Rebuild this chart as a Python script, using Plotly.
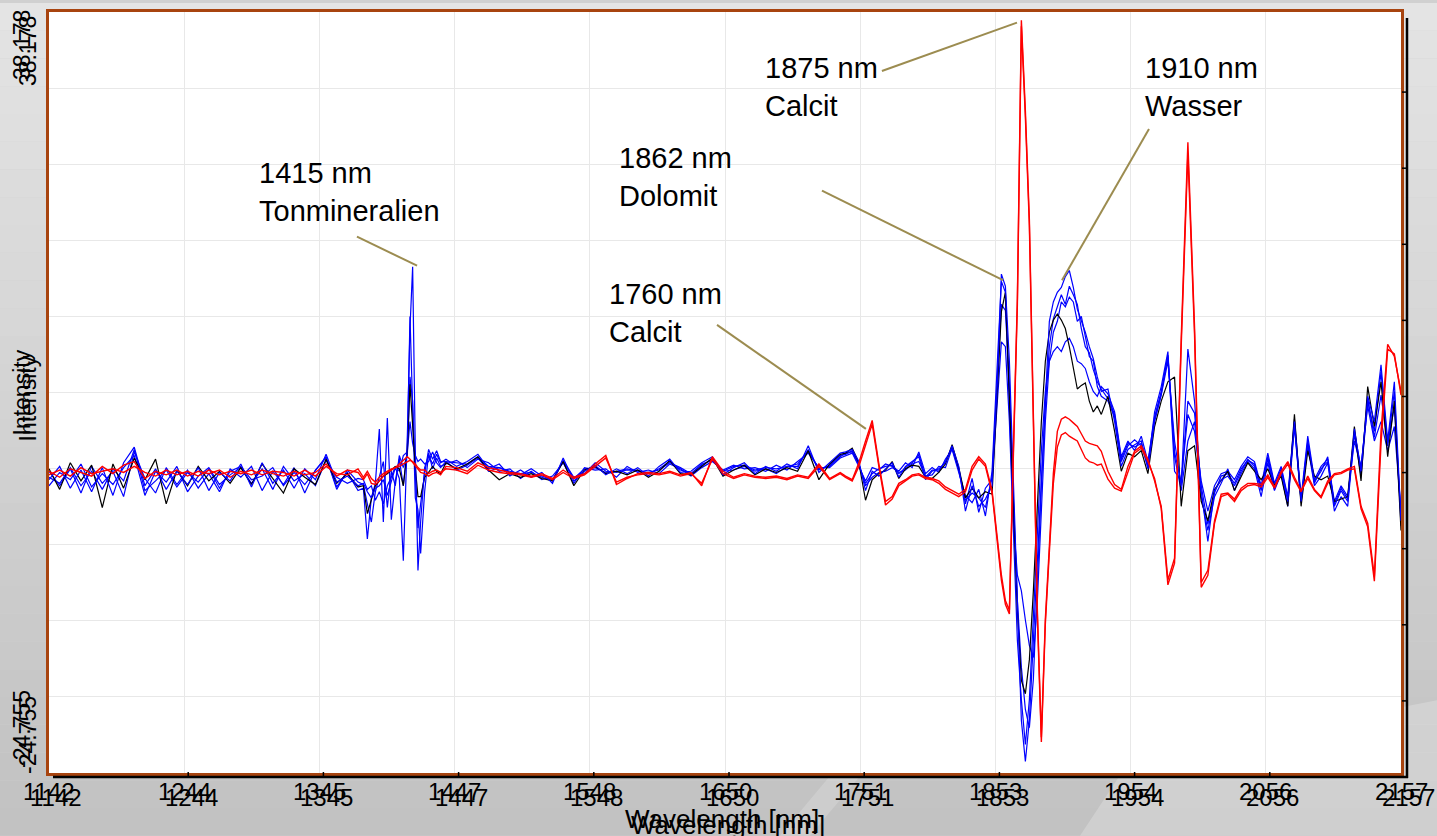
import plotly.graph_objects as go

# ---------------- data ----------------
wavelength = (list(range(1142, 1375, 8))
              + [1378, 1381, 1384, 1387, 1390, 1393, 1396, 1399, 1402, 1405, 1408,
                 1411, 1413, 1415, 1417, 1419, 1421, 1424, 1427, 1430, 1433, 1436]
              + list(range(1440, 1737, 8))
              + list(range(1740, 1851, 5))
              + list(range(1854, 1930, 3))
              + list(range(1932, 2153, 5)) + [2157])

blue_1 = ([-0.5, 0.6, -1.2, 0.3, -1.5, 0.5, -1.8, 0.9, 2.2, -1.0, 0.4, -1.3, 0.2, -0.9, 0.5,
           -1.4, 0.1, -0.6, 0.8, -1.1, 0.9, -0.8, 0.3, -1.2, 0.4, -0.5, 1.6, -0.7, -0.2, -1.0]
          + [-0.8, -1.5, -2.0, -1.2, -1.0, -0.5, -1.8, -0.6, 0.5, -0.4, -7.2, 3.0, 12.0, 17.1,
             2.0, -8.0, -4.0, 0.5, 1.5, 0.8, 1.6, 0.9]
          + [1.2, 0.6, 1.0, 1.6, 0.4, 0.8, -0.2, 0.3, -0.3, 0.1, -0.8, 1.3, -0.6, 0.2, 0.7, -0.1,
             0.4, 0.0, 0.5, -0.2, 0.6, 1.2, 0.1, 0.2, 0.9, 1.4, -0.1, 0.5, 0.9, 0.0, 0.6, 0.2,
             0.8, 0.4, 2.3, 0.1, 0.9, 1.7]
          + [1.8, 2.0, 1.0, -1.4, 0.2, -0.2, 0.4, 0.9, -0.3, 0.6, 1.0, 1.4, -0.5, 0.2, 0.4, 0.9,
             2.3, 0.6, -3.1, -1.0, -2.7, -2.1, -1.0]
          + [7.6, 16.5, 15.5, 9.3, -0.6, -12.1, -20.4, -23.8, -20.4, -13.8, -7.2, 0.2, 6.8,
             12.6, 14.2, 15.0, 15.4, 16.3, 16.8, 15.4, 13.6, 12.7, 11.7, 10.5, 9.5, 8.0]
          + [6.8, 7.0, 4.3, 0.6, 2.0, 2.4, 2.7, 0.4, 4.3, 6.5, 9.3, 2.7, -1.0, 10.3, 6.0, -1.4,
             -5.6, -1.4, -0.5, -0.2, -1.0, 0.2, 1.2, 0.6, -1.4, 1.2, -1.3, 0.2, -2.3, 4.3, -2.3,
             2.7, -0.6, 0.2, 1.4, -2.7, -1.4, -2.3, 3.7, 0.2, 6.4, 4.3, 9.0, 2.7, 7.6, -3.9])

blue_2 = ([0.2, -1.0, 0.4, -1.6, 0.6, -0.8, 0.2, -1.9, 1.8, -0.4, -1.6, 0.5, -0.9, 0.3, -1.2,
           0.0, -1.5, 0.4, -0.3, 0.6, -1.4, 0.2, -0.9, 0.5, -1.6, 0.3, 1.3, -1.1, 0.1, -1.4]
          + [-1.2, -5.4, -2.0, -0.8, 3.7, -4.0, 4.6, -3.8, -0.6, 1.2, -1.0, 2.0, 13.0, 4.3,
             -2.0, -3.0, -6.6, -1.5, 1.7, 0.4, 1.3, 0.6]
          + [0.8, 1.1, 0.5, 1.2, 0.9, 0.2, 0.4, -0.4, 0.2, -0.5, -0.2, 0.9, -0.8, 0.5, 0.3, 0.4,
             -0.3, 0.6, 0.1, 0.3, 0.0, 0.8, 0.4, -0.2, 0.5, 1.0, 0.3, 0.7, 0.4, 0.5, 0.2, 0.7,
             0.3, 1.0, 1.7, 0.5, 0.5, 1.3]
          + [1.5, 1.7, 0.6, -0.6, 0.5, 0.3, 0.8, 0.6, 0.2, 0.9, 0.5, 1.8, 0.0, 0.5, 0.1, 1.2,
             2.0, 0.2, -1.8, -2.4, -1.3, -3.5, 0.2]
          + [9.3, 15.9, 15.0, 6.0, -3.9, -8.4, -9.7, -12.1, -14.2, -15.2, -10.5, -3.1, 4.3,
             9.3, 11.7, 12.6, 14.2, 13.8, 14.6, 14.2, 12.6, 13.0, 11.3, 9.7, 9.3, 7.2]
          + [6.4, 6.0, 4.7, 1.0, 2.3, 2.8, 2.3, 0.6, 5.1, 7.2, 10.1, 0.2, -0.6, 4.9, 3.5, -0.6,
             -3.1, -1.0, 0.0, 0.2, -0.5, 0.6, 1.4, 1.0, -1.0, 1.7, -0.8, 0.6, -1.9, 4.5, -2.0,
             3.1, -0.5, 0.6, 1.2, -2.3, -1.0, -1.9, 2.7, 0.6, 5.6, 2.7, 4.3, 1.9, 3.9, -3.1])

blue_3 = ([-1.0, 0.1, -0.5, 0.8, -1.1, 0.0, -0.9, 0.5, 1.5, -1.8, 0.2, -0.7, 0.6, -1.5, -0.2,
           0.5, -0.9, -0.1, 0.5, -0.8, 0.4, -1.3, 0.6, -0.6, 0.0, -1.0, 1.1, -0.3, -0.8, -0.4]
          + [-0.5, -1.3, -1.0, -2.2, -1.5, -2.5, -1.0, -0.3, 0.6, 0.2, 1.5, 1.8, 4.3, 2.5, 1.5,
             1.0, 1.2, 0.8, 1.0, 1.8, 0.9, 0.5]
          + [1.0, 0.3, 0.7, 1.3, 0.2, 0.5, 0.1, -0.1, 0.4, -0.2, -0.5, 1.1, -0.3, 0.0, 0.9, 0.2,
             0.1, 0.3, 0.3, 0.0, 0.4, 1.0, 0.3, 0.0, 0.7, 1.2, 0.2, 0.3, 0.6, 0.2, 0.4, 0.0,
             0.6, 0.6, 2.0, 0.3, 0.7, 1.5]
          + [1.6, 1.9, 0.8, -1.0, -0.3, 0.1, 0.2, 0.5, 0.1, 0.3, 0.8, 1.0, -0.2, -0.1, 0.6, 0.5,
             2.1, 0.3, -2.5, -0.4, -3.2, -1.2, -0.5]
          + [6.0, 10.9, 10.5, 4.3, -4.7, -13.8, -18.7, -22.4, -18.7, -12.1, -5.6, 1.9, 6.8,
             9.3, 10.1, 10.5, 10.1, 10.9, 11.2, 10.5, 9.3, 9.1, 8.7, 7.6, 6.8, 6.4]
          + [7.2, 6.6, 5.1, 1.4, 2.7, 1.9, 3.1, 1.0, 4.7, 6.8, 9.7, 1.4, -1.4, 2.7, 4.3, -1.9,
             -4.7, -1.9, -0.8, 0.4, -1.4, 0.0, 1.0, 0.4, -1.9, 0.9, -1.4, 0.0, -2.7, 3.9, -2.4,
             2.3, -1.0, -0.2, 0.9, -3.1, -1.9, -2.7, 3.3, -0.2, 6.0, 3.5, 8.4, 2.3, 6.8, -4.3])

blue_4 = ([-0.3, -0.8, 0.5, -1.0, 0.2, -1.3, 0.4, -0.6, 2.0, -1.4, -0.6, 0.3, -1.1, 0.1, -0.7,
           0.4, -1.2, 0.2, 0.6, -0.5, -0.2, 0.5, -1.0, 0.1, -0.9, 0.2, 1.4, -1.3, 0.3, -0.7]
          + [-0.9, -2.5, -4.0, -1.5, -0.3, 1.0, -2.8, 0.2, -1.0, 1.5, 0.5, 1.5, 8.0, 6.0, 0.0,
             -4.5, -2.5, 0.0, 2.0, 1.2, 1.9, 1.0]
          + [1.0, 0.9, 0.8, 1.4, 0.6, 0.5, 0.2, 0.0, 0.1, -0.3, -0.6, 1.0, -0.4, 0.4, 0.5, 0.1,
             0.2, 0.4, 0.2, 0.1, 0.3, 0.9, 0.5, 0.0, 0.8, 1.1, 0.2, 0.6, 0.7, 0.3, 0.5, 0.4,
             0.6, 0.8, 1.9, 0.4, 0.6, 1.4]
          + [1.7, 1.8, 0.7, -0.8, 0.0, 0.4, 0.6, 0.7, 0.0, 0.5, 0.9, 1.6, -0.3, 0.3, 0.3, 1.0,
             2.2, 0.4, -2.2, -1.6, -2.0, -2.8, -0.3]
          + [8.5, 14.0, 13.5, 7.5, -2.0, -10.5, -16.0, -19.5, -21.0, -17.0, -9.0, -1.0, 5.5,
             10.5, 12.8, 13.8, 14.8, 14.0, 15.5, 14.8, 14.0, 12.0, 10.5, 10.0, 8.6, 7.6]
          + [7.0, 6.2, 4.9, 1.2, 2.5, 2.2, 2.5, 0.8, 4.5, 6.6, 9.8, 1.8, -0.8, 6.0, 5.0, -1.0,
             -4.2, -1.6, -0.2, 0.0, -0.8, 0.4, 1.1, 0.8, -1.2, 1.4, -1.0, 0.4, -2.0, 4.0, -2.2,
             2.5, -0.8, 0.4, 1.0, -2.5, -1.2, -2.1, 3.5, 0.4, 6.2, 3.0, 6.5, 2.5, 5.5, -3.5])

black_1 = ([0.4, -1.3, 0.9, -0.6, 0.7, -2.8, 0.8, -1.2, 1.3, -0.5, 1.2, -2.5, 0.3, -1.0, 0.6,
            -0.6, 0.2, -0.8, 0.5, -0.9, 0.8, -0.4, -1.6, 0.4, -0.3, -0.9, 1.2, -0.8, 0.0, -1.1]
           + [-1.0, -3.3, -2.2, -1.0, -0.6, -0.2, 0.0, 0.3, 0.6, 0.4, -1.0, 2.0, 7.4, 4.0, 0.5,
              -1.9, -1.9, -0.3, 0.1, 0.6, 0.2, 0.0]
           + [0.9, 0.4, 0.8, 1.4, 0.3, -0.5, 0.0, -0.3, 0.0, -0.4, -0.6, 1.0, -1.0, 0.3, 0.6,
              0.0, 0.2, -0.1, 0.3, -0.3, 0.2, 1.1, 0.0, -0.1, 0.6, 1.3, -0.2, 0.3, 0.7, -0.1,
              0.4, 0.1, 0.5, 0.2, 1.9, -0.5, 0.8, 1.6]
           + [1.7, 2.1, 0.9, -2.2, -0.5, 0.0, 0.3, 1.0, -0.4, 0.4, 0.7, 0.6, -0.3, -0.4, 0.1,
              0.8, 2.4, 0.5, -2.0, -1.2, -2.0, -1.5, -1.7]
           + [6.8, 13.4, 15.0, 6.8, -2.3, -11.3, -17.1, -18.2, -15.4, -9.7, -2.3, 4.3, 9.3,
              11.7, 12.7, 13.2, 12.7, 12.0, 10.5, 8.9, 7.0, 7.3, 7.5, 6.0, 5.1, 5.6]
           + [4.9, 6.4, 3.5, 0.2, 1.7, 1.4, 1.9, 0.0, 3.9, 6.0, 7.6, 8.0, -2.7, 1.9, 2.3, -2.3,
              -3.9, -1.3, -0.6, 0.2, -1.4, -0.2, 0.9, 0.2, -0.5, 0.4, -1.0, -0.2, -2.7, 4.9,
              -2.7, 1.9, -0.2, -0.5, -0.2, -2.3, -2.1, -1.9, 3.9, -0.6, 7.2, 3.9, 7.6, 1.4,
              6.0, -4.7])

red_1 = ([0.2, -0.3, 0.4, 0.1, -0.2, 0.6, 0.0, 0.7, 1.0, -0.4, 0.2, -0.1, 0.3, -0.2, 0.2, 0.0,
          0.3, -0.3, 0.2, -0.1, 0.3, 0.0, -0.2, 0.2, -0.1, 0.1, 0.8, -0.2, 0.3, 0.1]
         + [-0.5, 0.0, -0.8, -0.9, -0.6, -0.2, 0.1, 0.3, 0.5, 0.8, 1.1, 1.4, 1.2, 0.9, 0.6, 0.3,
            0.1, 0.0, -0.2, 0.0, 0.1, -0.1]
         + [0.6, 0.5, 0.2, 0.9, 0.5, 0.3, 0.1, 0.0, -0.2, 0.0, -0.4, 0.3, -0.3, 0.0, 0.8, 1.5,
            -0.9, -0.4, 0.0, 0.1, 0.0, 0.2, -0.1, 0.1, -1.0, 1.4, 0.2, -0.3, 0.0, -0.2, -0.3,
            -0.2, -0.4, -0.1, -0.3, 0.8, -0.4, 0.1]
         + [-0.2, -0.5, 0.9, 2.7, 4.4, 0.8, -2.3, -1.9, -0.8, -0.5, -0.1, 0.0, -0.3, -0.4, -0.6,
            -1.1, -1.4, -1.7, -1.3, 0.6, 1.4, 0.8, -1.4]
         + [-5.6, -8.4, -10.5, -11.3, 2.0, 14.5, 37.5, 30.0, 21.0, 5.1, -11.3, -21.8, -12.0,
            -6.0, 0.0, 3.5, 4.5, 4.7, 4.5, 4.2, 3.9, 3.3, 2.7, 2.5, 2.4, 2.3]
         + [1.85, 0.2, -0.9, -1.3, 0.6, 1.85, 2.3, 1.2, -0.6, -2.7, -8.8, -7.0, 11.2, 27.4,
            12.1, -9.0, -8.0, -3.9, -1.7, -1.6, -2.1, -1.2, -0.8, -0.8, -0.9, -0.1, -1.1, 0.2,
            1.0, -0.3, -1.4, -0.2, -1.3, -1.9, -0.6, 0.0, 0.1, 0.4, 0.6, -2.7, -4.1, -8.5, 3.5,
            10.7, 9.7, 6.8])

red_2 = ([-0.1, 0.3, -0.2, 0.5, 0.0, 0.2, 0.4, 0.1, 0.6, 0.1, -0.2, 0.3, -0.1, 0.2, -0.2, 0.3,
          -0.1, 0.2, 0.0, 0.3, -0.1, 0.2, 0.1, -0.2, 0.3, -0.2, 0.6, 0.0, -0.1, 0.4]
         + [-0.3, 0.2, -0.4, -0.7, -0.3, 0.0, 0.2, 0.4, 0.5, 0.6, 0.8, 1.0, 1.1, 1.0, 0.8, 0.5,
            0.3, 0.3, 0.0, 0.2, 0.3, 0.1]
         + [0.4, 0.3, 0.0, 0.7, 0.3, 0.1, 0.0, -0.1, -0.3, -0.1, -0.5, 0.1, -0.4, -0.1, 0.6,
            1.3, -0.7, -0.3, -0.1, 0.0, -0.1, 0.1, -0.2, 0.0, -0.8, 1.2, 0.0, -0.4, -0.1, -0.3,
            -0.4, -0.3, -0.5, -0.2, -0.4, 0.6, -0.5, 0.0]
         + [-0.3, -0.6, 0.6, 2.4, 4.1, 0.6, -2.6, -2.1, -1.0, -0.6, -0.2, -0.1, -0.4, -0.5, -0.8,
            -1.3, -1.6, -1.9, -1.5, 0.3, 1.2, 0.6, -1.6]
         + [-5.9, -8.8, -10.8, -11.6, 1.5, 14.0, 37.0, 29.5, 20.5, 4.6, -11.8, -22.2, -12.4,
            -6.5, -0.8, 2.2, 3.2, 3.4, 3.1, 2.9, 2.7, 2.0, 1.3, 1.0, 0.9, 0.7]
         + [0.8, -0.45, -1.2, -1.44, 0.2, 1.7, 2.1, 1.0, -0.4, -2.9, -9.2, -7.4, 10.6, 26.5,
            11.5, -9.4, -8.4, -4.1, -1.9, -1.7, -2.3, -1.4, -1.0, -0.9, -1.1, -0.3, -1.2, 0.0,
            0.8, -0.5, -1.5, -0.4, -1.4, -2.0, -0.8, -0.1, 0.0, 0.3, 0.4, -2.9, -4.4, -8.9,
            2.5, 10.3, 9.9, 6.5])

x_tick_values = [1142, 1243.5, 1345, 1446.5, 1548, 1649.5, 1751, 1852.5, 1954, 2055.5, 2157]
x_tick_labels = ["1142", "1244", "1345", "1447", "1548", "1650", "1751", "1853", "1954", "2056", "2157"]
y_min, y_max = -24.755, 38.178
y_labels = ["38.178", "-24.755"]

callouts = [
    # text, text x, text y, line from (x, y) to (x, y)
    ("1415 nm<br>Tonmineralien", 1298.1, 23.3, 1373.2, 19.6, 1418.3, 17.2),
    ("1760 nm<br>Calcit", 1560.9, 13.3, 1643.5, 12.3, 1755.3, 3.7),
    ("1862 nm<br>Dolomit", 1568.4, 24.5, 1722.3, 23.4, 1858.2, 16.0),
    ("1875 nm<br>Calcit", 1678.0, 32.0, 1767.3, 33.3, 1868.7, 37.3),
    ("1910 nm<br>Wasser", 1963.3, 32.0, 1967.8, 28.5, 1902.5, 16.0),
]

for s in (blue_1, blue_2, blue_3, blue_4, black_1, red_1, red_2):
    assert len(s) == len(wavelength), (len(s), len(wavelength))

# ---------------- figure ----------------
W, H = 1437, 836
ML, MR, MT, MB = 49, 36, 9, 63
PW, PH = W - ML - MR, H - MT - MB
FONT = "Liberation Sans, Arial, sans-serif"


def px_x(px):
    return (px - ML) / PW


def px_y(py):
    return (H - MB - py) / PH


fig = go.Figure()
series = [(blue_3, "#0000ff", 1.2), (blue_4, "#0000ff", 1.2), (blue_2, "#0000ff", 1.2),
          (black_1, "#000000", 1.2), (blue_1, "#0000ff", 1.2),
          (red_2, "#ff0000", 1.4), (red_1, "#ff0000", 1.4)]
for vals, col, lw in series:
    fig.add_trace(go.Scatter(x=wavelength, y=vals, mode="lines",
                             line=dict(color=col, width=lw), hoverinfo="skip"))

shapes = []
# background gradient bands
n_bands = 30
for i in range(n_bands):
    t = i / (n_bands - 1)
    c = int(228 - t * (228 - 194))
    shapes.append(dict(type="rect", xref="paper", yref="paper", layer="below",
                       x0=px_x(0), x1=px_x(W), y0=px_y(H * (i + 1) / n_bands),
                       y1=px_y(H * i / n_bands), line=dict(width=0),
                       fillcolor=f"rgb({c},{c},{c})"))
# lighter diagonal streaks
shapes.append(dict(type="path", xref="paper", yref="paper", layer="below",
                   path=f"M {px_x(1080)},{px_y(H)} L {px_x(1130)},{px_y(760)} L {px_x(W)},{px_y(700)} L {px_x(W)},{px_y(H)} Z",
                   line=dict(width=0), fillcolor="rgba(255,255,255,0.22)"))
shapes.append(dict(type="path", xref="paper", yref="paper", layer="below",
                   path=f"M {px_x(780)},{px_y(H)} L {px_x(835)},{px_y(770)} L {px_x(865)},{px_y(770)} L {px_x(810)},{px_y(H)} Z",
                   line=dict(width=0), fillcolor="rgba(255,255,255,0.18)"))
# white plot area
shapes.append(dict(type="rect", xref="paper", yref="paper", layer="below",
                   x0=0, x1=1, y0=0, y1=1, line=dict(width=0), fillcolor="white"))
# black offset frame
shapes.append(dict(type="line", xref="paper", yref="paper", x0=px_x(53), x1=px_x(1408),
                   y0=px_y(777), y1=px_y(777), line=dict(color="black", width=2.5)))
shapes.append(dict(type="line", xref="paper", yref="paper", x0=px_x(1407), x1=px_x(1407),
                   y0=px_y(778), y1=px_y(15), line=dict(color="black", width=2.5)))
for xv in x_tick_values[1:]:
    shapes.append(dict(type="line", xref="x", yref="paper", x0=xv + 3, x1=xv + 3,
                       y0=px_y(777), y1=px_y(772), line=dict(color="black", width=1.5)))
step = (y_max - y_min) / 10
for k in range(1, 10):
    yv = y_min + k * step - 0.33
    shapes.append(dict(type="line", xref="paper", yref="y", x0=px_x(1407), x1=px_x(1402),
                       y0=yv, y1=yv, line=dict(color="black", width=1.5)))
# callout lines
for _, tx, ty, x0, y0, x1, y1 in callouts:
    shapes.append(dict(type="line", xref="x", yref="y", x0=x0, y0=y0, x1=x1, y1=y1,
                       line=dict(color="#9c8c50", width=2)))

annotations = []
for txt, tx, ty, *_ in callouts:
    annotations.append(dict(x=tx, y=ty, xref="x", yref="y", text=txt, showarrow=False,
                            xanchor="left", yanchor="middle", align="left",
                            font=dict(family=FONT, size=29, color="black")))
tick_font = dict(family=FONT, size=24, color="black")
side_font = dict(family=FONT, size=23, color="black")
title_font = dict(family=FONT, size=26, color="black")
for xv, lab in zip(x_tick_values, x_tick_labels):
    for dx, dy in ((0, 0), (7, -6)):
        annotations.append(dict(x=xv, y=px_y(776), xref="x", yref="paper", text=lab,
                                showarrow=False, xanchor="center", yanchor="top",
                                xshift=dx, yshift=dy, font=tick_font))
for dx, dy in ((0, 0), (6, -6)):
    annotations.append(dict(x=px_x(22), y=px_y(5), xref="paper", yref="paper", text=y_labels[0],
                            showarrow=False, textangle=-90, xanchor="center", yanchor="top",
                            xshift=dx, yshift=dy, font=side_font))
    annotations.append(dict(x=px_x(22), y=px_y(770), xref="paper", yref="paper", text=y_labels[1],
                            showarrow=False, textangle=-90, xanchor="center", yanchor="bottom",
                            xshift=dx, yshift=dy, font=side_font))
    annotations.append(dict(x=px_x(21), y=0.5, xref="paper", yref="paper", text="Intensity",
                            showarrow=False, textangle=-90, xanchor="center", yanchor="middle",
                            xshift=dx, yshift=dy, font=side_font))
    annotations.append(dict(x=px_x(722), y=px_y(819), xref="paper", yref="paper",
                            text="Wavelength [nm]", showarrow=False, xanchor="center",
                            yanchor="middle", xshift=dx, yshift=dy, font=title_font))

fig.update_layout(
    width=W, height=H,
    margin=dict(l=ML, r=MR, t=MT, b=MB, pad=0),
    paper_bgcolor="#d0d0d0", plot_bgcolor="white",
    showlegend=False, shapes=shapes, annotations=annotations,
    xaxis=dict(range=[1142, 2157], tickvals=x_tick_values, showticklabels=False, ticks="",
               showgrid=True, gridcolor="#e8e8e8", gridwidth=1, zeroline=False,
               showline=True, mirror=True, linecolor="#a8440f", linewidth=3),
    yaxis=dict(range=[y_min, y_max], tickvals=[y_min + k * step for k in range(1, 10)],
               showticklabels=False, ticks="", showgrid=True, gridcolor="#e8e8e8", gridwidth=1,
               zeroline=False, showline=True, mirror=True, linecolor="#a8440f", linewidth=3),
)

fig.write_html("out.html", config={"displayModeBar": False},
               post_script="document.body.style.margin='0';document.body.style.overflow='hidden';")
